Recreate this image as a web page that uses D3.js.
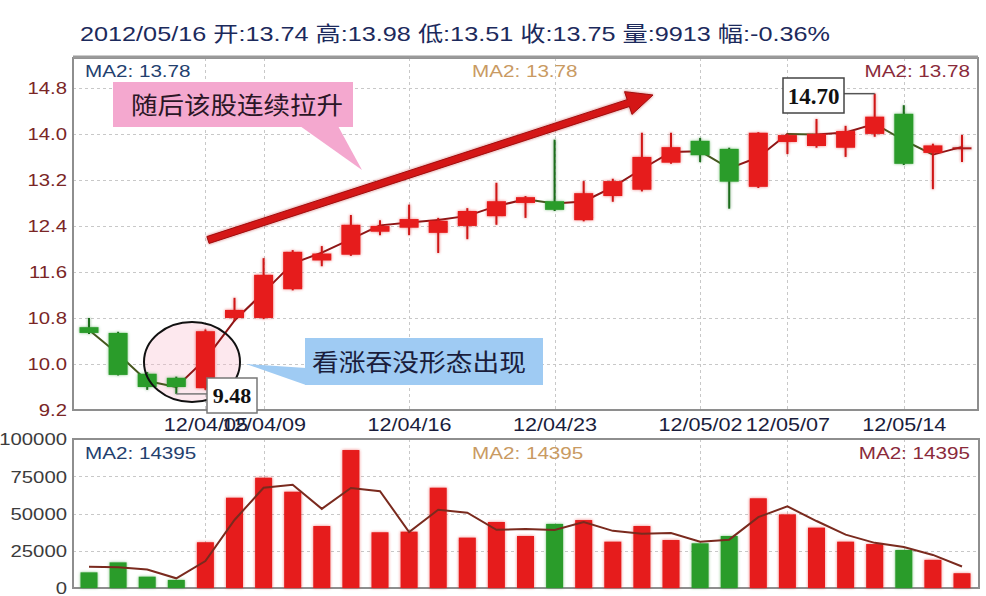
<!DOCTYPE html>
<html><head><meta charset="utf-8">
<script src="https://cdn.jsdelivr.net/npm/d3@7/dist/d3.min.js"></script>
<style>body{margin:0;background:#fff}svg{display:block}</style>
</head><body><svg id="c" width="986" height="596"></svg>
<script>
// ---------------- data ----------------
const dates = ["12/03/27","12/03/28","12/03/29","12/03/30","12/04/05","12/04/06","12/04/09","12/04/10","12/04/11","12/04/12","12/04/13","12/04/16","12/04/17","12/04/18","12/04/19","12/04/20","12/04/23","12/04/24","12/04/25","12/04/26","12/04/27","12/05/02","12/05/03","12/05/04","12/05/07","12/05/09","12/05/10","12/05/11","12/05/14","12/05/15","12/05/16"];
const tickDates = ["12/04/05","12/04/09","12/04/16","12/04/23","12/05/02","12/05/07","12/05/14"];
const openP  = [10.64,10.54,9.83,9.76,9.58,10.80,10.80,11.30,11.80,11.90,12.30,12.37,12.28,12.40,12.57,12.80,12.83,12.50,12.92,13.03,13.50,13.88,13.74,13.08,13.86,13.79,13.76,14.00,14.35,13.67,13.74];
const highP  = [10.80,10.56,9.86,9.78,10.60,11.15,11.84,11.98,12.05,12.59,12.50,12.77,12.54,12.71,13.15,12.92,13.90,13.18,13.22,14.02,14.02,13.93,13.76,14.03,14.00,14.26,14.14,14.70,14.50,13.83,13.98];
const lowP   = [10.52,9.80,9.55,9.48,9.55,10.76,10.78,11.28,11.70,11.88,12.24,12.24,11.93,12.17,12.42,12.54,12.66,12.48,12.82,13.00,13.48,13.51,12.70,13.06,13.65,13.76,13.60,13.95,13.46,13.04,13.51];
const closeP = [10.54,9.81,9.60,9.60,10.57,10.94,11.55,11.95,11.92,12.42,12.40,12.52,12.49,12.66,12.83,12.90,12.68,12.97,13.18,13.60,13.77,13.63,13.17,14.02,13.98,14.00,14.05,14.30,13.48,13.80,13.75];
const volume = [10500,17200,7600,5400,30700,60600,74000,64600,41600,92600,37400,37800,67300,33800,44300,34900,43000,45600,31100,41600,32200,30000,34900,60200,49400,40500,31100,29500,25500,18877,9913];
const prevClose = 10.64, prevVolume = 18100;
const priceTicks = [9.2,10.0,10.8,11.6,12.4,13.2,14.0,14.8];
const volumeTicks = [0,25000,50000,75000,100000];
const markLow = "9.48", markHigh = "14.70";
const noteUp = "随后该股连续拉升", notePattern = "看涨吞没形态出现";

// ---------------- derived ----------------
const N = dates.length;
const ma2 = closeP.map((c,i)=> (c + (i>0?closeP[i-1]:prevClose))/2);
const vma2 = volume.map((v,i)=> (v + (i>0?volume[i-1]:prevVolume))/2);
const last = N-1;
const pct = (closeP[last]-closeP[last-1])/closeP[last-1]*100;
const titleText = "20"+dates[last]+" 开:"+openP[last].toFixed(2)+" 高:"+highP[last].toFixed(2)+" 低:"+lowP[last].toFixed(2)+" 收:"+closeP[last].toFixed(2)+" 量:"+volume[last]+" 幅:"+pct.toFixed(2)+"%";
const maPriceText = "MA2: "+ma2[last].toFixed(2);
const maVolText = "MA2: "+Math.round(vma2[last]);

// ---------------- layout ----------------
const svg = d3.select("#c");
const PL=73, PR=978, PT=58, PB=410, VT=439, VB=588;
const x = d3.scalePoint().domain(d3.range(N)).range([89,962]);
const yP = d3.scaleLinear().domain([9.2,15.32]).range([PB,PT]);
const yV = d3.scaleLinear().domain([0,100000]).range([VB,VT]);
const RED="#e61c1c", GREEN="#2c9c2c";
const LAT = "'Liberation Sans', Arial, sans-serif";
const CJK = "'Noto Sans CJK SC', sans-serif";

function stretch(sel,k){ sel.each(function(){ const l=this.getComputedTextLength(); this.setAttribute("textLength", l*k); this.setAttribute("lengthAdjust","spacingAndGlyphs"); }); }

const defs = svg.append("defs");
const f = defs.append("filter").attr("id","glow").attr("x","-30%").attr("y","-30%").attr("width","160%").attr("height","160%");
f.append("feGaussianBlur").attr("in","SourceGraphic").attr("stdDeviation",1.8).attr("result","b");
f.append("feComponentTransfer").attr("in","b").attr("result","b2").append("feFuncA").attr("type","linear").attr("slope",0.6);
const fm=f.append("feMerge"); fm.append("feMergeNode").attr("in","b2"); fm.append("feMergeNode").attr("in","SourceGraphic");

// title
svg.append("text").attr("x",80).attr("y",41).attr("font-family",LAT+","+CJK).attr("font-size",21).attr("fill","#1c2a5c").text(titleText)
  .attr("textLength",750).attr("lengthAdjust","spacingAndGlyphs");

// ---------------- grids ----------------
const tickIdx = tickDates.map(d=>dates.indexOf(d));
const grid = svg.append("g").attr("stroke","#c8c8c8").attr("stroke-width",1).attr("stroke-dasharray","3,3");
priceTicks.filter(t=>t>9.3).forEach(t=>grid.append("line").attr("x1",PL).attr("x2",PR).attr("y1",Math.round(yP(t))+0.5).attr("y2",Math.round(yP(t))+0.5));
volumeTicks.filter(t=>t>0&&t<100000).forEach(t=>grid.append("line").attr("x1",PL).attr("x2",PR).attr("y1",Math.round(yV(t))+0.5).attr("y2",Math.round(yV(t))+0.5));
tickIdx.forEach(i=>{
  grid.append("line").attr("x1",Math.round(x(i))+0.5).attr("x2",Math.round(x(i))+0.5).attr("y1",PT).attr("y2",PB);
  grid.append("line").attr("x1",Math.round(x(i))+0.5).attr("x2",Math.round(x(i))+0.5).attr("y1",VT).attr("y2",VB);
});

// frames
svg.append("rect").attr("x",PL).attr("y",PT).attr("width",PR-PL).attr("height",PB-PT).attr("fill","none").attr("stroke","#8e8e8e").attr("stroke-width",2);
svg.append("line").attr("x1",PL).attr("x2",PR).attr("y1",PT-1).attr("y2",PT-1).attr("stroke","#9a9a9a").attr("stroke-width",3);
svg.append("rect").attr("x",PL).attr("y",VT).attr("width",PR-PL+1).attr("height",VB-VT).attr("fill","none").attr("stroke","#8e8e8e").attr("stroke-width",2);

// ---------------- axes ----------------
const axP = svg.append("g").attr("transform",`translate(${PL},0)`)
  .call(d3.axisLeft(yP).tickValues(priceTicks).tickFormat(d3.format(".1f")).tickSize(0).tickPadding(6));
axP.select(".domain").remove();
axP.selectAll("text").attr("font-family",LAT).attr("font-size",16).attr("fill","#7a2626").attr("dy","0.36em");
stretch(axP.selectAll("text"),1.27);

const axV = svg.append("g").attr("transform",`translate(${PL},0)`)
  .call(d3.axisLeft(yV).tickValues(volumeTicks).tickFormat(d3.format("d")).tickSize(0).tickPadding(6));
axV.select(".domain").remove();
axV.selectAll("text").attr("font-family",LAT).attr("font-size",16).attr("fill","#3c3c3c").attr("dy","0.36em");
stretch(axV.selectAll("text"),1.27);

const axX = svg.append("g").attr("transform",`translate(0,${PB})`)
  .call(d3.axisBottom(x).tickValues(tickIdx).tickFormat(i=>dates[i]).tickSize(0).tickPadding(8));
axX.select(".domain").remove();
axX.selectAll("text").attr("font-family",LAT).attr("font-size",18).attr("fill","#1a1d3c");
stretch(axX.selectAll("text"),1.2);

// MA labels
function maLabels(yb, txt){
  const s=[[85,"start","#23406e"],[472,"start","#c99a62"],[970,"end","#8a2a3a"]];
  s.forEach(([xx,anc,col])=>{
    const t=svg.append("text").attr("x",xx).attr("y",yb).attr("text-anchor",anc).attr("font-family",LAT).attr("font-size",16).attr("fill",col).text(txt);
    stretch(t,1.29);
  });
}
maLabels(77, maPriceText);
maLabels(459, maVolText);

// ellipse fill (under candles)
svg.append("ellipse").attr("cx",192).attr("cy",362).attr("rx",48).attr("ry",40).attr("fill","rgba(250,190,205,0.35)");

// ---------------- price MA line ----------------
const maG = svg.append("g").attr("fill","none").attr("stroke-width",2);
for(let i=1;i<N;i++){
  maG.append("line").attr("x1",x(i-1)).attr("y1",yP(ma2[i-1])).attr("x2",x(i)).attr("y2",yP(ma2[i]))
    .attr("stroke", ma2[i]<ma2[i-1] ? "#46561e" : "#8e1616").attr("stroke-linecap","round");
}

// ---------------- candles ----------------
const cw = 19;
const cg = svg.append("g").attr("filter","url(#glow)");
d3.range(N).forEach(i=>{
  const up = closeP[i]>=openP[i];
  const col = up?RED:GREEN;
  const g = cg.append("g");
  g.append("line").attr("x1",x(i)).attr("x2",x(i)).attr("y1",yP(highP[i])).attr("y2",yP(lowP[i]))
    .attr("stroke", up?"#d01818":"#1f6e1f").attr("stroke-width",2);
  const top=yP(Math.max(openP[i],closeP[i])), bot=yP(Math.min(openP[i],closeP[i]));
  if (bot-top<2){
    g.append("line").attr("x1",x(i)-cw/2).attr("x2",x(i)+cw/2).attr("y1",top).attr("y2",top).attr("stroke","#b01818").attr("stroke-width",2);
  } else {
    g.append("rect").attr("x",x(i)-cw/2).attr("y",top).attr("width",cw).attr("height",bot-top).attr("fill",col);
  }
});

// ---------------- volume ----------------
const vg = svg.append("g").attr("filter","url(#glow)");
d3.range(N).forEach(i=>{
  const up = closeP[i]>=openP[i];
  vg.append("rect").attr("x",x(i)-8.5).attr("y",yV(volume[i])).attr("width",17).attr("height",yV(0)-yV(volume[i]))
    .attr("fill", up?RED:GREEN);
});
svg.append("path").datum(vma2).attr("fill","none").attr("stroke","#7a2a1e").attr("stroke-width",2)
  .attr("d", d3.line().x((d,i)=>x(i)).y(d=>yV(d)));

// ---------------- annotations ----------------
// ellipse outline around engulfing pattern
svg.append("ellipse").attr("cx",192).attr("cy",362).attr("rx",48).attr("ry",40)
  .attr("fill","none").attr("stroke","#111").attr("stroke-width",2);

// low marker
const iLow = d3.minIndex(lowP);
svg.append("path").attr("d",`M${x(iLow)},${yP(lowP[iLow])} H207`).attr("stroke","#777").attr("stroke-width",1.5).attr("fill","none");
svg.append("rect").attr("x",207).attr("y",378).attr("width",50).attr("height",35).attr("fill","#fff").attr("stroke","#777").attr("stroke-width",1.5);
svg.append("text").attr("x",232).attr("y",403).attr("text-anchor","middle").attr("font-family","'Liberation Serif', serif").attr("font-weight","bold").attr("font-size",22).attr("fill","#111").text(markLow);

// high marker
const iHigh = d3.maxIndex(highP);
svg.append("path").attr("d",`M844,${yP(highP[iHigh])} H${x(iHigh)}`).attr("stroke","#555").attr("stroke-width",1.5).attr("fill","none");
svg.append("rect").attr("x",783).attr("y",78).attr("width",61).attr("height",35).attr("fill","#fff").attr("stroke","#444").attr("stroke-width",1.5);
svg.append("text").attr("x",813.5).attr("y",104).attr("text-anchor","middle").attr("font-family","'Liberation Serif', serif").attr("font-weight","bold").attr("font-size",23).attr("fill","#111").text(markHigh);

// big arrow
(function(){
  const sx=208, sy=240, tx=653, ty=95;
  const L=Math.hypot(tx-sx,ty-sy), ux=(tx-sx)/L, uy=(ty-sy)/L, nx=-uy, ny=ux;
  const hl=26, hw=12, sw=3.6;
  const bx=tx-ux*hl, by=ty-uy*hl;
  const pts=[[sx+nx*sw,sy+ny*sw],[bx+nx*sw,by+ny*sw],[bx+nx*hw,by+ny*hw],[tx,ty],[bx-nx*hw,by-ny*hw],[bx-nx*sw,by-ny*sw],[sx-nx*sw,sy-ny*sw]];
  svg.append("polygon").attr("points",pts.map(p=>p.join(",")).join(" ")).attr("fill","#d41818").attr("stroke","#a00c0c").attr("stroke-width",1).attr("filter","url(#glow)");
})();

// pink callout
svg.append("polygon").attr("points","300,126 362,170 338,126").attr("fill","#f4a8cf");
svg.append("rect").attr("x",113).attr("y",82).attr("width",240).attr("height",45).attr("fill","#f4a8cf");
svg.append("text").attr("x",131).attr("y",114).attr("font-family",CJK).attr("font-size",24).attr("fill","#2a1626").text(noteUp)
  .attr("textLength",212).attr("lengthAdjust","spacingAndGlyphs");

// blue callout
svg.append("polygon").attr("points","246,364 306,368 306,385").attr("fill","#9fcbf3");
svg.append("rect").attr("x",305).attr("y",338).attr("width",238).attr("height",47).attr("fill","#9fcbf3");
svg.append("text").attr("x",312).attr("y",371).attr("font-family",CJK).attr("font-size",24).attr("fill","#1a1d3c").text(notePattern)
  .attr("textLength",214).attr("lengthAdjust","spacingAndGlyphs");
</script></body></html>
